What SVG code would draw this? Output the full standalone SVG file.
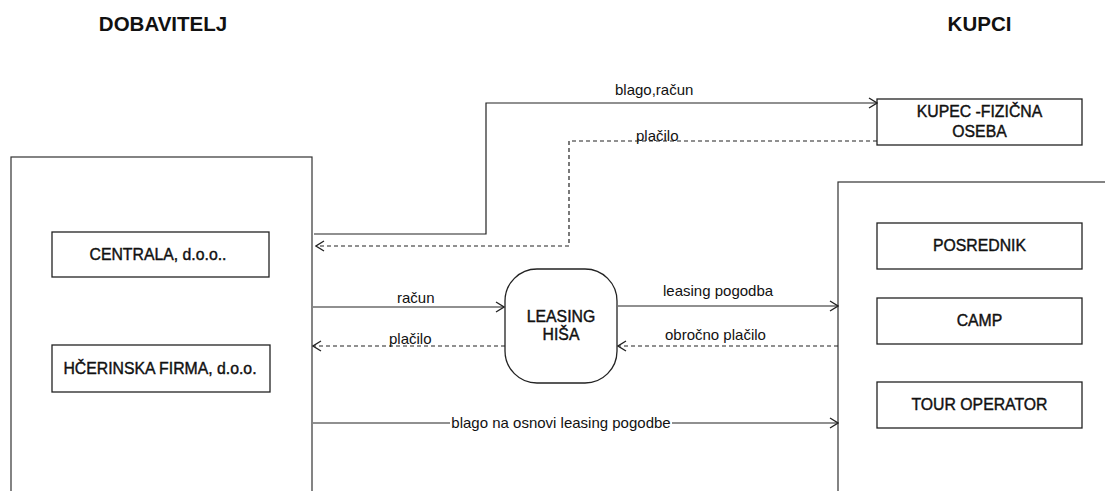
<svg xmlns="http://www.w3.org/2000/svg" width="1105" height="491" viewBox="0 0 1105 491">
  <defs>
    <marker id="arr" markerWidth="10" markerHeight="12" refX="9" refY="6" orient="auto" markerUnits="userSpaceOnUse">
      <path d="M1,1 L9,6 L1,11" fill="none" stroke="#222" stroke-width="1.3"/>
    </marker>
    <style>
      .box { fill: #fff; stroke: #222; stroke-width: 1.3; }
      .big { fill: none; stroke: #333; stroke-width: 1.2; }
      .lbl { font-family: "Liberation Sans", Arial, sans-serif; font-size: 15.8px; fill: #111; stroke: #111; stroke-width: 0.4; text-anchor: middle; }
      .hdr { font-family: "Liberation Sans", Arial, sans-serif; font-size: 20.5px; font-weight: bold; fill: #111; text-anchor: middle; }
      .cl { font-family: "Liberation Sans", Arial, sans-serif; font-size: 15px; fill: #111; }
      .solid { fill: none; stroke: #222; stroke-width: 1.2; marker-end: url(#arr); }
      .dash { fill: none; stroke: #222; stroke-width: 1.2; stroke-dasharray: 4 3; marker-end: url(#arr); }
    </style>
  </defs>
  <rect width="1105" height="491" fill="#fff"/>

  <g id="title-dobavitelj"><text class="hdr" x="163" y="31">DOBAVITELJ</text></g>
  <g id="title-kupci"><text class="hdr" x="979.5" y="31">KUPCI</text></g>

  <g id="dobavitelj">
    <rect class="big" x="11" y="157" width="301" height="345"/>
  </g>
  <g id="centrala">
    <rect class="box" x="52" y="232" width="217" height="45"/>
    <text class="lbl" x="158" y="260">CENTRALA, d.o.o..</text>
  </g>
  <g id="hcerinska">
    <rect class="box" x="52" y="345" width="218" height="47"/>
    <text class="lbl" x="160" y="374">HČERINSKA FIRMA, d.o.o.</text>
  </g>

  <g id="kupci">
    <rect class="big" x="838" y="182" width="280" height="320"/>
  </g>
  <g id="kupec">
    <rect class="box" x="877" y="99" width="205" height="46"/>
    <text class="lbl" x="979.5" y="117">KUPEC -FIZIČNA</text>
    <text class="lbl" x="979.5" y="137">OSEBA</text>
  </g>
  <g id="posrednik">
    <rect class="box" x="877" y="223" width="205" height="46"/>
    <text class="lbl" x="979.5" y="251">POSREDNIK</text>
  </g>
  <g id="camp">
    <rect class="box" x="877" y="298" width="205" height="46"/>
    <text class="lbl" x="979.5" y="326">CAMP</text>
  </g>
  <g id="tour-operator">
    <rect class="box" x="877" y="382" width="205" height="46"/>
    <text class="lbl" x="979.5" y="410">TOUR OPERATOR</text>
  </g>

  <g id="leasing-hisa">
    <rect class="box" x="505" y="269" width="112" height="114" rx="32" ry="32"/>
    <text class="lbl" x="561" y="322">LEASING</text>
    <text class="lbl" x="561" y="340">HIŠA</text>
  </g>

  <g id="connectors">
    <path class="solid" d="M314,234 H486 V103 H877"/>
    <text class="cl" x="615" y="95">blago,račun</text>

    <path class="dash" d="M877,141 H569 V246 H316"/>
    <text class="cl" x="636" y="141">plačilo</text>

    <path class="solid" d="M313,307 H504"/>
    <text class="cl" x="397" y="303">račun</text>

    <path class="dash" d="M505,346 H313"/>
    <text class="cl" x="389" y="344">plačilo</text>

    <path class="solid" d="M618,306 H838"/>
    <text class="cl" x="663" y="296">leasing pogodba</text>

    <path class="dash" d="M838,346 H618"/>
    <text class="cl" x="665" y="340">obročno plačilo</text>

    <path class="solid" d="M313,423 H838"/>
    <rect x="450" y="414" width="222" height="16" fill="#fff"/>
    <text class="cl" x="561" y="428" text-anchor="middle">blago na osnovi leasing pogodbe</text>
  </g>
</svg>
